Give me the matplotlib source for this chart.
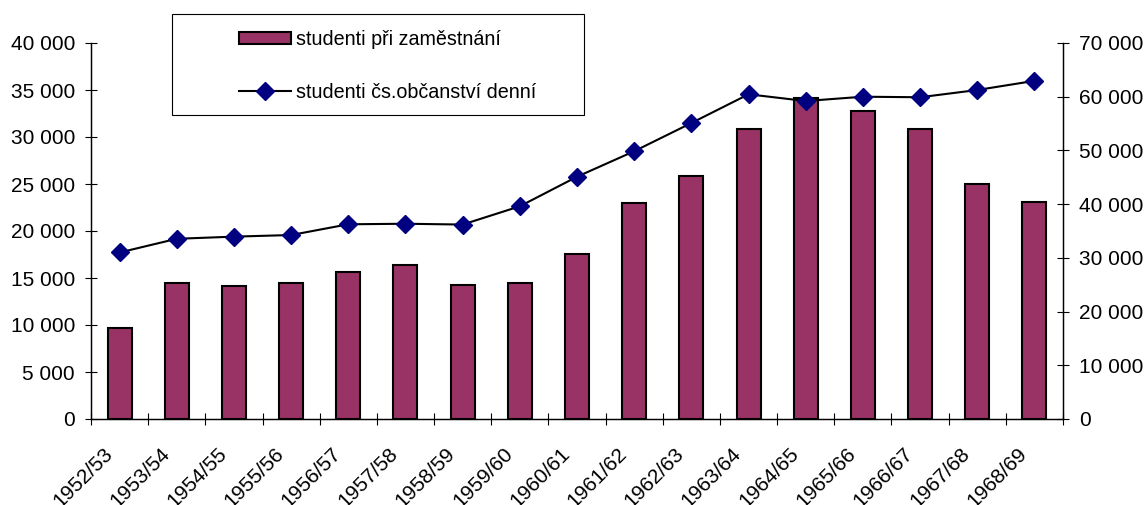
import matplotlib
matplotlib.use('Agg')
import matplotlib.pyplot as plt
from matplotlib.patches import Rectangle, Patch
from matplotlib.lines import Line2D
from matplotlib.ticker import FuncFormatter, FixedLocator
from matplotlib.transforms import ScaledTranslation

plt.rcParams['font.family'] = ['Liberation Sans', 'DejaVu Sans']

# Data
years = ['1952/53', '1953/54', '1954/55', '1955/56', '1956/57', '1957/58',
         '1958/59', '1959/60', '1960/61', '1961/62', '1962/63', '1963/64',
         '1964/65', '1965/66', '1966/67', '1967/68', '1968/69']
pri_zamestnani = [9700, 14450, 14200, 14450, 15600, 16350, 14300, 14450, 17600,
                  23000, 25900, 30800, 34200, 32750, 30900, 25050, 23050]
denni = [31000, 33550, 33950, 34250, 36250, 36350, 36200, 39600, 45100,
         49850, 55100, 60450, 59200, 60000, 59900, 61250, 62950]

fmt = FuncFormatter(lambda v, p: '{:,}'.format(int(v)).replace(',', ' '))

fig = plt.figure(figsize=(11.47, 5.05), dpi=100)
ax = fig.add_axes([91 / 1147, 86 / 505, 972 / 1147, 376 / 505])
x = list(range(len(years)))

ax.bar(x, pri_zamestnani, width=0.42, color='#993366', edgecolor='black',
       linewidth=1.5, zorder=2)
ax.set_xlim(-0.5, len(years) - 0.5)
ax.set_ylim(0, 40000)
ax.set_yticks(range(0, 40001, 5000))
ax.yaxis.set_major_formatter(fmt)

ax2 = ax.twinx()
ax2.plot(x, denni, color='black', linewidth=1.5, marker='D', markersize=9,
         markerfacecolor='#000080', markeredgecolor='#000080', zorder=3)
ax2.set_ylim(0, 70000)
ax2.set_yticks(range(0, 70001, 10000))
ax2.yaxis.set_major_formatter(fmt)

for a in (ax, ax2):
    a.spines['top'].set_visible(False)
    for s in a.spines.values():
        s.set_linewidth(0.9)
    a.tick_params(axis='y', direction='inout', length=9, width=0.8,
                  labelsize=15, pad=7)

ax.set_xticks(x)
ax.set_xticklabels(years, rotation=45, ha='right', va='top',
                   rotation_mode='anchor', fontsize=15)
ax.tick_params(axis='x', which='major', length=0, pad=18)
ax.xaxis.set_minor_locator(FixedLocator([i - 0.5 for i in range(len(years) + 1)]))
ax.tick_params(axis='x', which='minor', direction='inout', length=9, width=0.8)

offset = ScaledTranslation(-17 / 100, 0, fig.dpi_scale_trans)
for lab in ax.get_xticklabels():
    lab.set_transform(lab.get_transform() + offset)

# legend box
fig.add_artist(Rectangle((172 / 1147, 1 - 115 / 505), 412 / 1147, 101 / 505,
                         transform=fig.transFigure, facecolor='white',
                         edgecolor='black', linewidth=0.8, zorder=5))
handles = [Patch(facecolor='#993366', edgecolor='black', linewidth=1.5),
           Line2D([], [], color='black', linewidth=1.5, marker='D', markersize=9,
                  markerfacecolor='#000080', markeredgecolor='#000080')]
labels = ['studenti při zaměstnání', 'studenti čs.občanství denní']
leg = fig.legend(handles, labels, loc='upper left',
                 bbox_to_anchor=(239 / 1147, 1 - 30 / 505),
                 frameon=False, borderpad=0, borderaxespad=0, fontsize=14.2,
                 handlelength=2.64, handleheight=0.6, handletextpad=0.25,
                 labelspacing=1.71)
leg.set_zorder(6)

fig.savefig('out.png', dpi=100)
